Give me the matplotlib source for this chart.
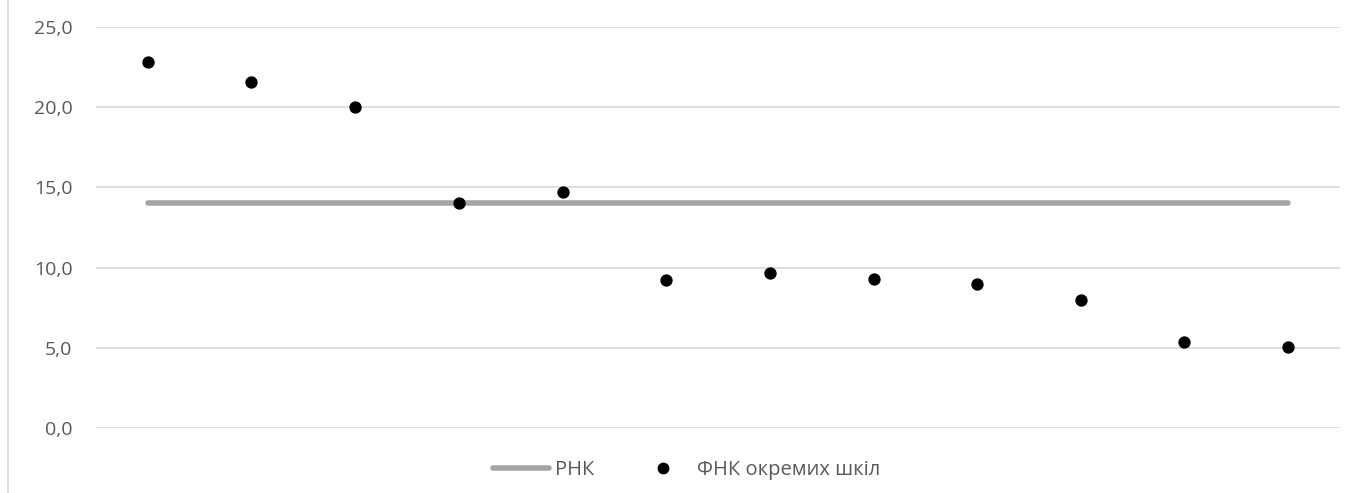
import matplotlib.pyplot as plt
from matplotlib.lines import Line2D
from matplotlib.ticker import FuncFormatter

# values
schools = list(range(1, 13))
fnk_values = [22.8, 21.6, 20.0, 14.0, 14.7, 9.25, 9.65, 9.3, 9.0, 8.0, 5.35, 5.05]
rnk_value = 14.0
y_ticks = [0, 5, 10, 15, 20, 25]
label_rnk = 'РНК'
label_fnk = 'ФНК окремих шкіл'

plt.rcParams['font.family'] = ['Open Sans', 'DejaVu Sans']

fig = plt.figure(figsize=(13.53, 4.93), dpi=100)
ax = fig.add_axes([96 / 1353, 1 - 428 / 493, (1340 - 96) / 1353, (428 - 27) / 493])

x = list(range(len(schools)))
ax.plot([x[0], x[-1]], [rnk_value, rnk_value], color='#A5A5A5', linewidth=4,
        solid_capstyle='round', label=label_rnk, zorder=2)
ax.scatter(x, fnk_values, s=62, color='black', label=label_fnk, zorder=3)

ax.set_xlim(-0.5, len(schools) - 0.5)
ax.set_ylim(0, 25)
ax.set_yticks(y_ticks)
ax.yaxis.set_major_formatter(FuncFormatter(lambda v, p: f'{v:.1f}'.replace('.', ',')))
ax.set_xticks([])
ax.grid(axis='y', color='#D9D9D9', linewidth=1.2)
ax.set_axisbelow(True)
for s in ax.spines.values():
    s.set_visible(False)
ax.tick_params(axis='y', length=0, pad=17, labelsize=14, labelcolor='#595959')

# left border line of the chart area
fig.add_artist(Line2D([8 / 1353, 8 / 1353], [0, 1], color='#D9D9D9', linewidth=1.2))

handles = [Line2D([], [], color='#A5A5A5', linewidth=4, solid_capstyle='round'),
           Line2D([], [], color='black', marker='o', linestyle='none', markersize=7.5)]
fig.legend(handles, [label_rnk, label_fnk], loc='center', bbox_to_anchor=(0.5 + 10 / 1353, 1 - 470 / 493),
           ncol=2, frameon=False, fontsize=14.5, labelcolor='#595959',
           handlelength=2.8, handletextpad=0.3, columnspacing=2.0)

fig.savefig('out.png', dpi=100)
